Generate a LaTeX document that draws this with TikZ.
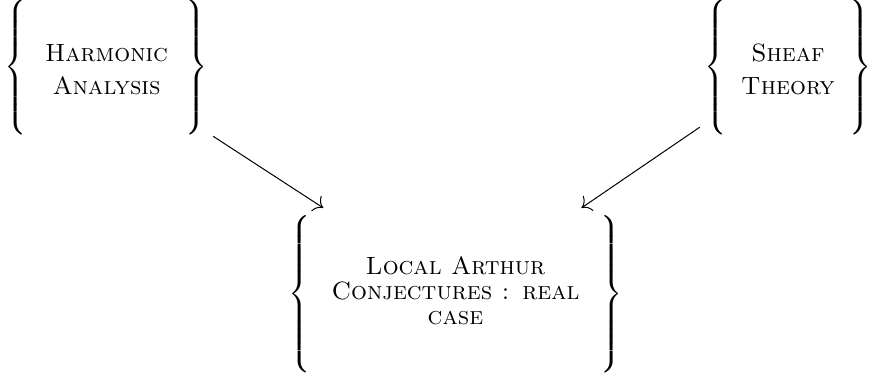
\documentclass[tikz,border=0pt]{standalone}
\usepackage{graphicx}
\usetikzlibrary{arrows.meta}
\begin{document}
\delimiterfactor=1000 \delimitershortfall=0pt \nulldelimiterspace=0pt
\newcommand{\myScaledL}[2]{\vcenter{\hbox{\scalebox{1}[#2]{$\left\{\vcenter to #1{}\right.$}}}}
\newcommand{\myScaledR}[2]{\vcenter{\hbox{\scalebox{1}[#2]{$\left.\vcenter to #1{}\right\}$}}}}
\newcommand{\myBraceBox}[6]{% width, height, baselineskip, extra top space, vscale, text
  $\myScaledL{#2}{#5}\vcenter to #2{\vss\kern#4\hbox to #1{\hss\fontsize{10pt}{#3}\selectfont\scshape
  \begin{tabular}{@{}c@{}}#6\end{tabular}\hss}\vss}\myScaledR{#2}{#5}$}
\begin{tikzpicture}[x=0.4pt,y=-0.4pt,
  bracenode/.style={inner sep=0pt,outer sep=2pt},
  link/.style={-{To[scale=1.4]},line width=0.4pt}]
\useasboundingbox (0,0) rectangle (869,374);
\node[bracenode] (h) at (106.5,67) {\myBraceBox{63.6pt}{53pt}{13.2pt}{3.2pt}{1}{Harmonic\\Analysis}};
\node[bracenode] (s) at (788,67) {\myBraceBox{48.8pt}{53pt}{13.2pt}{3.2pt}{1}{Sheaf\\Theory}};
\node[bracenode, outer sep=3pt] (b) at (455.5,294) {\myBraceBox{116.2pt}{61pt}{10pt}{0pt}{0.952}{Local Arthur\\Conjectures : real\\case}};
\draw[link] (h) -- (b);
\draw[link] (s) -- (b);
\end{tikzpicture}
\end{document}
